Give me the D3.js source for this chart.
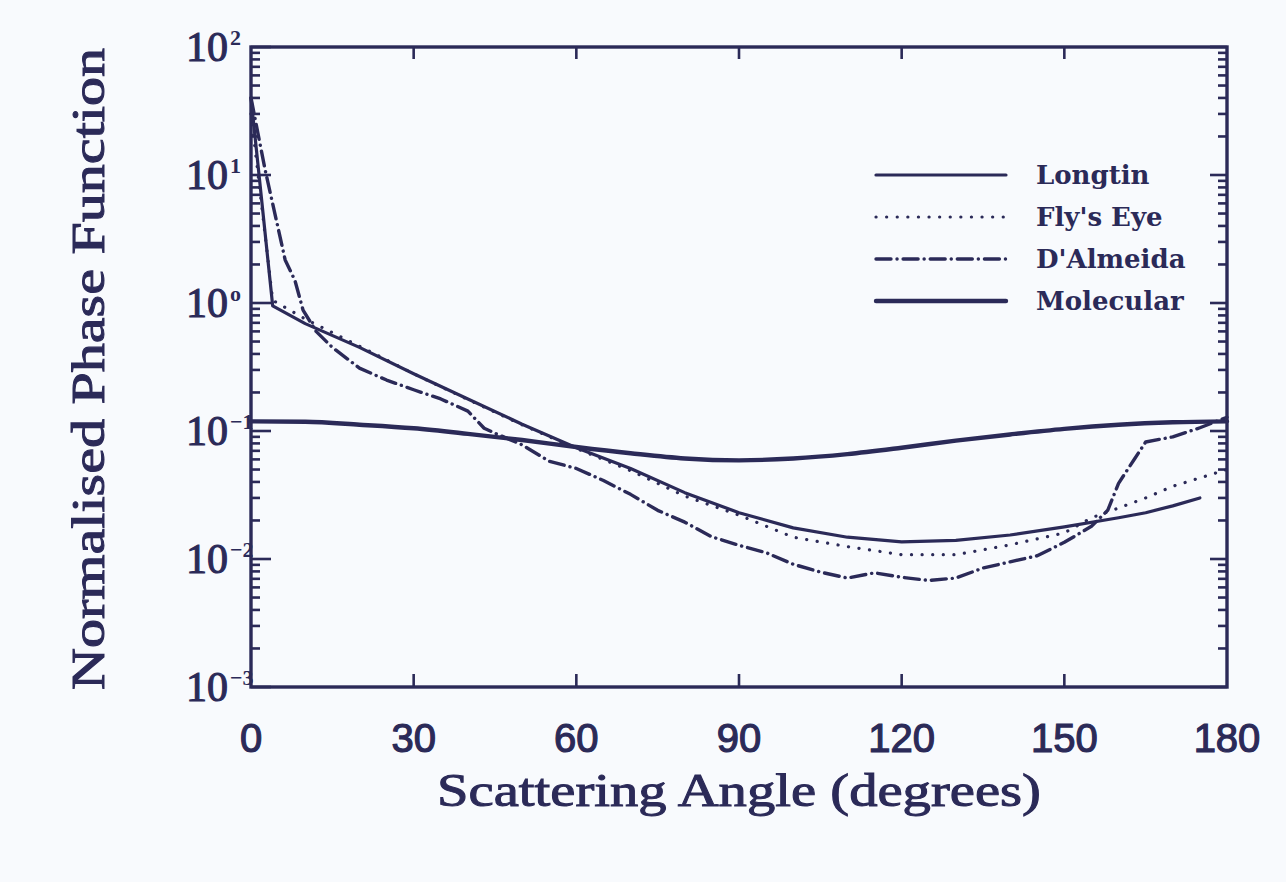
<!DOCTYPE html>
<html>
<head>
<meta charset="utf-8">
<script src="https://cdn.jsdelivr.net/npm/d3@7"></script>
<style>
  html, body { margin: 0; padding: 0; background: #f8fafd; }
  svg { display: block; }
</style>
</head>
<body>
<svg width="1286" height="882"></svg>
<script>
// data
const longtinAngle = [0, 4, 10, 20, 30, 40, 50, 60, 70, 80, 90, 100, 110, 120, 130, 140, 150, 160, 165, 170, 175];
const longtinValue = [40, 0.95, 0.69, 0.45, 0.28, 0.178, 0.113, 0.074, 0.051, 0.033, 0.023, 0.0175, 0.0148, 0.0136, 0.014, 0.0154, 0.0178, 0.021, 0.023, 0.026, 0.030];

const flyAngle = [0, 4, 10, 20, 30, 40, 50, 60, 70, 80, 90, 100, 110, 120, 130, 140, 150, 155, 160, 165, 170, 175, 180];
const flyValue = [30, 1.05, 0.75, 0.46, 0.28, 0.176, 0.112, 0.073, 0.049, 0.031, 0.022, 0.0148, 0.0125, 0.0108, 0.0108, 0.0129, 0.016, 0.021, 0.025, 0.030, 0.037, 0.043, 0.050];

const almeidaAngle = [0, 2.6, 4.8, 6.3, 8.1, 9.6, 12, 15, 20, 25, 30, 35, 40, 43, 45, 50, 55, 60, 65, 70, 75, 80, 85, 90, 95, 100, 105, 110, 115, 120, 125, 130, 135, 140, 145, 150, 155, 158, 160, 163, 165, 170, 175, 180];
const almeidaValue = [40, 11, 4.2, 2.17, 1.5, 0.88, 0.6, 0.45, 0.31, 0.25, 0.21, 0.178, 0.143, 0.105, 0.096, 0.078, 0.058, 0.051, 0.041, 0.032, 0.024, 0.0194, 0.0149, 0.0128, 0.0112, 0.0091, 0.0079, 0.0071, 0.0078, 0.0072, 0.0068, 0.0071, 0.0085, 0.0095, 0.0106, 0.0135, 0.018, 0.024, 0.039, 0.061, 0.082, 0.09, 0.106, 0.128];

const molAngle = [0, 10, 20, 30, 40, 50, 60, 70, 80, 90, 100, 110, 120, 130, 140, 150, 160, 170, 180];
const molValue = [0.119, 0.118, 0.112, 0.105, 0.095, 0.085, 0.075, 0.067, 0.061, 0.059, 0.061, 0.066, 0.074, 0.084, 0.094, 0.104, 0.112, 0.117, 0.119];

const xTicks = [0, 30, 60, 90, 120, 150, 180];
const yDecades = [-3, -2, -1, 0, 1, 2];
const supers = { "-3": "\u22123", "-2": "\u22122", "-1": "\u22121", "0": "o", "1": "1", "2": "2" };

const ink = "#2b2a58";
const svg = d3.select("svg");
const pLeft = 251, pRight = 1227, pTop = 47, pBottom = 687;

const x = d3.scaleLinear().domain([0, 180]).range([pLeft, pRight]);
const y = d3.scaleLog().domain([1e-3, 1e2]).range([pBottom, pTop]);

// ticks on all four sides
const g = svg.append("g").attr("stroke", ink).attr("stroke-width", 2.6);
yDecades.forEach(d => {
  const v = Math.pow(10, d);
  g.append("line").attr("x1", pLeft).attr("x2", pLeft + 20).attr("y1", y(v)).attr("y2", y(v));
  g.append("line").attr("x1", pRight).attr("x2", pRight - 17).attr("y1", y(v)).attr("y2", y(v));
  if (d < 2) {
    for (let m = 2; m <= 9; m++) {
      const yy = y(m * v);
      g.append("line").attr("x1", pLeft).attr("x2", pLeft + 9).attr("y1", yy).attr("y2", yy);
      g.append("line").attr("x1", pRight).attr("x2", pRight - 9).attr("y1", yy).attr("y2", yy);
    }
  }
});
xTicks.slice(1, -1).forEach(t => {
  g.append("line").attr("x1", x(t)).attr("x2", x(t)).attr("y1", pTop).attr("y2", pTop + 12);
  g.append("line").attr("x1", x(t)).attr("x2", x(t)).attr("y1", pBottom).attr("y2", pBottom - 13);
});

svg.append("rect")
  .attr("x", pLeft).attr("y", pTop)
  .attr("width", pRight - pLeft).attr("height", pBottom - pTop)
  .attr("fill", "none").attr("stroke", ink).attr("stroke-width", 3.4);

// tick labels
svg.append("g").selectAll("text").data(xTicks).join("text")
  .attr("x", d => x(d)).attr("y", 752)
  .attr("text-anchor", "middle")
  .attr("font-family", "Liberation Sans, sans-serif")
  .attr("font-size", 40)
  .attr("fill", ink)
  .attr("stroke", ink).attr("stroke-width", 1.2)
  .text(d => d);

const yl = svg.append("g").selectAll("g").data(yDecades).join("g")
  .attr("transform", d => `translate(0, ${y(Math.pow(10, d))})`);
yl.append("text")
  .attr("x", 228).attr("y", 14)
  .attr("text-anchor", "end")
  .attr("font-family", "Liberation Serif, serif")
  .attr("font-size", 42)
  .attr("fill", ink)
  .attr("stroke", ink).attr("stroke-width", 1.1)
  .text("10");
yl.append("text")
  .attr("x", 230).attr("y", -2)
  .attr("font-family", "Liberation Serif, serif")
  .attr("font-size", 22)
  .attr("font-weight", "bold")
  .attr("fill", ink)
  .text(d => supers[d]);

// axis titles
svg.append("text")
  .attr("x", 739).attr("y", 806)
  .attr("text-anchor", "middle")
  .attr("font-family", "Liberation Serif, serif")
  .attr("font-size", 47)
  .attr("textLength", 604).attr("lengthAdjust", "spacingAndGlyphs")
  .attr("fill", ink)
  .attr("stroke", ink).attr("stroke-width", 1)
  .text("Scattering Angle (degrees)");

svg.append("text")
  .attr("transform", "translate(104, 369) rotate(-90)")
  .attr("text-anchor", "middle")
  .attr("font-family", "Liberation Serif, serif")
  .attr("font-size", 47)
  .attr("textLength", 642).attr("lengthAdjust", "spacingAndGlyphs")
  .attr("fill", ink)
  .attr("stroke", ink).attr("stroke-width", 1)
  .text("Normalised Phase Function");

// curves
const series = [
  { name: "Longtin", a: longtinAngle, v: longtinValue, w: 3.2, dash: null, curve: d3.curveLinear },
  { name: "Fly's Eye", a: flyAngle, v: flyValue, w: 3.2, dash: "0.1 10.5", curve: d3.curveLinear },
  { name: "D'Almeida", a: almeidaAngle, v: almeidaValue, w: 3.4, dash: "15 6 0.1 6", curve: d3.curveLinear },
  { name: "Molecular", a: molAngle, v: molValue, w: 4.4, dash: null, curve: d3.curveMonotoneX }
];

svg.append("g").selectAll("path").data(series).join("path")
  .attr("d", s => d3.line()
    .curve(s.curve)
    .x(d => x(d[0]))
    .y(d => y(d[1]))(s.a.map((a, i) => [a, s.v[i]])))
  .attr("fill", "none")
  .attr("stroke", ink)
  .attr("stroke-width", s => s.w)
  .attr("stroke-linecap", "round")
  .attr("stroke-linejoin", "round")
  .attr("stroke-dasharray", s => s.dash);

// legend
const lg = svg.append("g").selectAll("g").data(series).join("g")
  .attr("transform", (d, i) => `translate(0, ${175 + i * 42})`);
lg.append("line")
  .attr("x1", 876).attr("x2", 1006)
  .attr("stroke", ink)
  .attr("stroke-width", d => d.w)
  .attr("stroke-linecap", "round")
  .attr("stroke-dasharray", d => d.dash);
lg.append("text")
  .attr("x", 1036).attr("y", 9)
  .attr("font-family", "DejaVu Serif, serif")
  .attr("font-weight", "bold")
  .attr("font-size", 26)
  .attr("fill", ink)
  .text(d => d.name);
</script>
</body>
</html>
